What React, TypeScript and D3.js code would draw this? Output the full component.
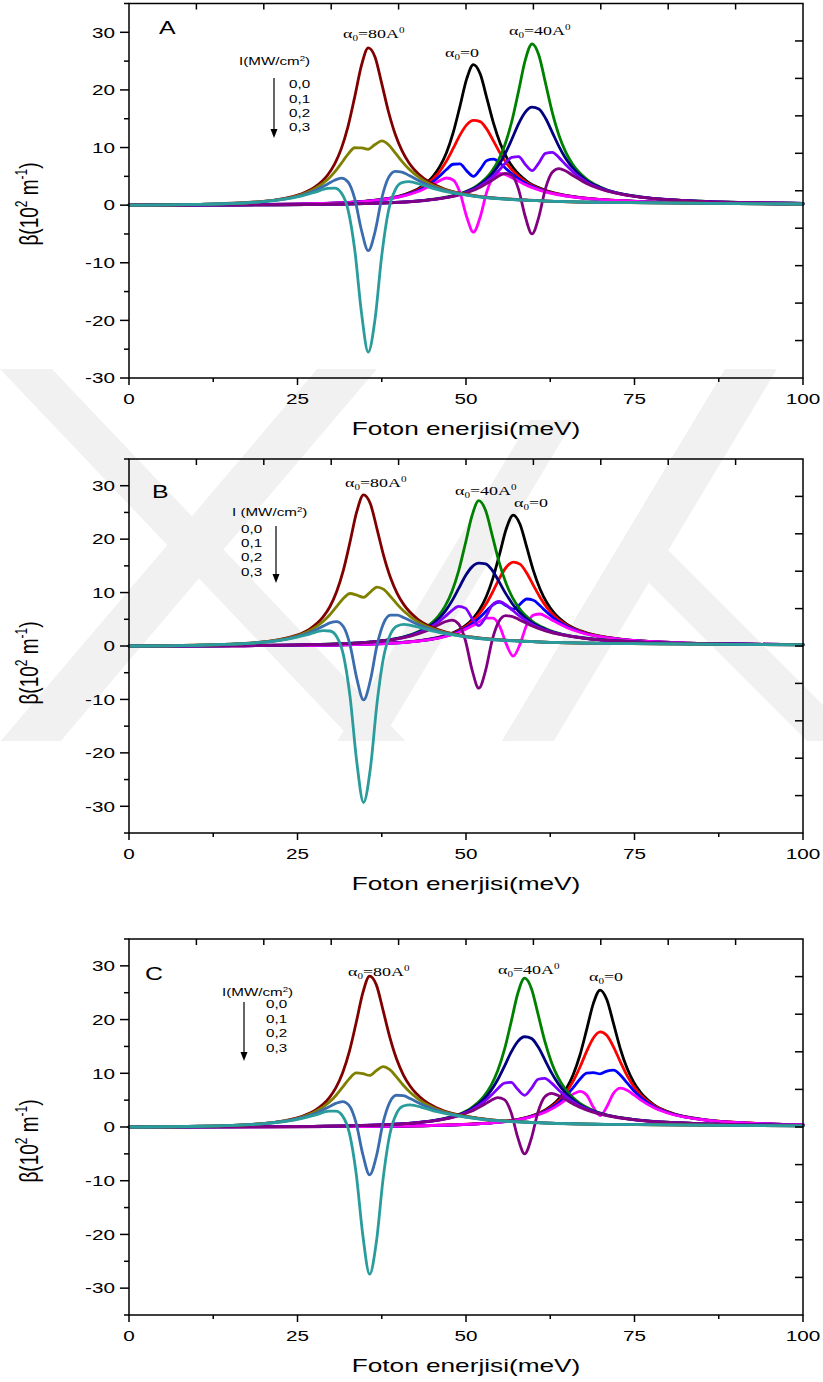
import React, { useEffect, useRef } from "react";
import * as d3 from "d3";

// Photon energy grids (meV) and nonlinear absorption β (10^2 m^-1)
// Each group: α0 value, four intensities I = 0.0, 0.1, 0.2, 0.3 MW/cm²

// ---- Panel A ----
const xA0 = [0, 11.1, 26.1, 35.1, 41.1, 43.1, 45.1, 46.1, 47.1, 48.1, 49.1, 50.1, 51.1, 52.1, 53.1, 54.1, 55.1, 56.1, 57.1, 59.1, 61.1, 67.1, 76.1, 86.1, 100];
const yA0_0 = [0, 0.04, 0.21, 0.68, 1.93, 2.99, 5.0, 6.68, 9.11, 12.58, 17.15, 21.91, 24.4, 22.79, 18.54, 14.14, 10.66, 8.13, 6.33, 4.1, 2.87, 1.31, 0.62, 0.36, 0.22];
const yA0_1 = [0, 0.04, 0.21, 0.67, 1.85, 2.82, 4.54, 5.87, 7.64, 9.84, 12.16, 13.93, 14.7, 14.49, 13.15, 11.06, 8.94, 7.15, 5.75, 3.87, 2.75, 1.29, 0.62, 0.36, 0.22];
const yA0_2 = [0, 0.04, 0.21, 0.66, 1.78, 2.65, 4.08, 5.07, 6.18, 7.1, 7.18, 5.95, 5.0, 6.19, 7.76, 7.99, 7.23, 6.17, 5.16, 3.63, 2.64, 1.27, 0.61, 0.36, 0.22];
const yA0_3 = [0, 0.04, 0.21, 0.65, 1.7, 2.47, 3.62, 4.26, 4.71, 4.36, 2.19, -2.02, -4.7, -2.1, 2.37, 4.91, 5.51, 5.19, 4.58, 3.39, 2.53, 1.24, 0.61, 0.36, 0.22];

const xA40 = [0, 19.8, 34.8, 43.8, 49.8, 51.8, 53.8, 54.8, 55.8, 56.8, 57.8, 58.8, 59.8, 60.8, 61.8, 62.8, 63.8, 64.8, 65.8, 67.8, 69.8, 75.8, 84.8, 94.8, 100];
const yA40_0 = [0, 0.06, 0.28, 0.84, 2.29, 3.53, 5.85, 7.79, 10.58, 14.56, 19.8, 25.22, 28.0, 26.07, 21.16, 16.1, 12.1, 9.21, 7.15, 4.62, 3.21, 1.45, 0.68, 0.39, 0.31];
const yA40_1 = [0, 0.06, 0.28, 0.82, 2.2, 3.33, 5.32, 6.86, 8.9, 11.43, 14.11, 16.14, 17.0, 16.69, 15.08, 12.64, 10.17, 8.11, 6.5, 4.35, 3.09, 1.43, 0.68, 0.39, 0.31];
const yA40_2 = [0, 0.06, 0.28, 0.81, 2.11, 3.12, 4.78, 5.93, 7.22, 8.3, 8.42, 7.07, 6.0, 7.31, 9.0, 9.17, 8.25, 7.01, 5.85, 4.09, 2.96, 1.4, 0.67, 0.39, 0.31];
const yA40_3 = [0, 0.06, 0.27, 0.8, 2.03, 2.92, 4.25, 5.0, 5.53, 5.16, 2.73, -2.01, -5.0, -2.07, 2.92, 5.71, 6.33, 5.91, 5.2, 3.82, 2.84, 1.38, 0.67, 0.39, 0.31];

const xA80 = [0, 10.5, 19.5, 25.5, 27.5, 29.5, 30.5, 31.5, 32.5, 33.5, 34.5, 35.5, 36.5, 37.5, 38.5, 39.5, 40.5, 41.5, 43.5, 45.5, 51.5, 60.5, 70.5, 100];
const yA80_0 = [0, 0.14, 0.61, 1.93, 3.07, 5.27, 7.12, 9.81, 13.68, 18.84, 24.3, 27.3, 25.71, 21.09, 16.21, 12.3, 9.45, 7.41, 4.86, 3.44, 1.62, 0.8, 0.48, 0.2];
const yA80_1 = [0, 0.14, 0.6, 1.8, 2.79, 4.48, 5.73, 7.25, 8.85, 9.96, 9.95, 9.7, 10.53, 11.15, 10.49, 9.09, 7.6, 6.3, 4.41, 3.22, 1.57, 0.79, 0.48, 0.2];
const yA80_2 = [0, 0.14, 0.58, 1.68, 2.5, 3.69, 4.33, 4.69, 4.02, 1.08, -4.4, -7.9, -4.65, 1.2, 4.77, 5.88, 5.75, 5.19, 3.95, 3.0, 1.53, 0.78, 0.48, 0.2];
const yA80_3 = [0, 0.13, 0.56, 1.56, 2.21, 2.9, 2.94, 2.13, -0.81, -7.81, -18.75, -25.5, -19.83, -8.74, -0.96, 2.67, 3.9, 4.08, 3.5, 2.78, 1.49, 0.77, 0.48, 0.2];

// ---- Panel B ----
const xB0 = [0, 17, 32, 41, 47, 49, 51, 52, 53, 54, 55, 56, 57, 58, 59, 60, 61, 62, 63, 65, 67, 73, 82, 92, 100];
const yB0_0 = [0, 0.05, 0.24, 0.72, 1.98, 3.06, 5.09, 6.78, 9.23, 12.71, 17.29, 22.05, 24.5, 22.83, 18.55, 14.12, 10.62, 8.09, 6.29, 4.06, 2.83, 1.28, 0.6, 0.35, 0.25];
const yB0_1 = [0, 0.05, 0.23, 0.71, 1.91, 2.9, 4.67, 6.04, 7.89, 10.21, 12.75, 14.79, 15.7, 15.32, 13.68, 11.34, 9.08, 7.2, 5.76, 3.85, 2.73, 1.26, 0.6, 0.35, 0.25];
const yB0_2 = [0, 0.05, 0.23, 0.7, 1.84, 2.74, 4.24, 5.3, 6.54, 7.71, 8.21, 7.54, 6.9, 7.81, 8.8, 8.57, 7.53, 6.32, 5.24, 3.64, 2.63, 1.24, 0.6, 0.35, 0.25];
const yB0_3 = [0, 0.05, 0.23, 0.69, 1.78, 2.58, 3.82, 4.56, 5.2, 5.21, 3.67, 0.29, -1.9, 0.3, 3.93, 5.79, 5.99, 5.44, 4.71, 3.43, 2.53, 1.22, 0.59, 0.35, 0.25];

const xB40 = [0, 11.9, 26.9, 35.9, 41.9, 43.9, 45.9, 46.9, 47.9, 48.9, 49.9, 50.9, 51.9, 52.9, 53.9, 54.9, 55.9, 56.9, 57.9, 59.9, 61.9, 67.9, 76.9, 86.9, 100];
const yB40_0 = [0, 0.04, 0.24, 0.77, 2.16, 3.35, 5.59, 7.46, 10.17, 14.03, 19.13, 24.43, 27.2, 25.39, 20.66, 15.75, 11.87, 9.05, 7.05, 4.56, 3.19, 1.45, 0.69, 0.4, 0.25];
const yB40_1 = [0, 0.04, 0.24, 0.76, 2.07, 3.14, 5.03, 6.48, 8.4, 10.73, 13.11, 14.81, 15.5, 15.39, 14.16, 12.04, 9.8, 7.87, 6.34, 4.28, 3.05, 1.43, 0.69, 0.4, 0.25];
const yB40_2 = [0, 0.04, 0.24, 0.74, 1.97, 2.93, 4.47, 5.51, 6.63, 7.42, 7.09, 5.18, 3.8, 5.38, 7.66, 8.33, 7.73, 6.69, 5.64, 3.99, 2.92, 1.4, 0.68, 0.4, 0.25];
const yB40_3 = [0, 0.04, 0.24, 0.73, 1.88, 2.72, 3.91, 4.54, 4.85, 4.12, 1.08, -4.45, -7.9, -4.62, 1.16, 4.62, 5.67, 5.5, 4.93, 3.71, 2.78, 1.38, 0.68, 0.4, 0.25];

const xB80 = [0, 9.8, 18.8, 24.8, 26.8, 28.8, 29.8, 30.8, 31.8, 32.8, 33.8, 34.8, 35.8, 36.8, 37.8, 38.8, 39.8, 40.8, 42.8, 44.8, 50.8, 59.8, 69.8, 100];
const yB80_0 = [0, 0.14, 0.62, 1.98, 3.17, 5.44, 7.35, 10.15, 14.16, 19.51, 25.18, 28.3, 26.66, 21.89, 16.83, 12.78, 9.82, 7.7, 5.06, 3.58, 1.69, 0.83, 0.5, 0.21];
const yB80_1 = [0, 0.14, 0.61, 1.85, 2.86, 4.58, 5.84, 7.36, 8.9, 9.83, 9.53, 9.1, 10.1, 11.03, 10.58, 9.27, 7.8, 6.49, 4.56, 3.34, 1.64, 0.82, 0.5, 0.21];
const yB80_2 = [0, 0.13, 0.59, 1.72, 2.54, 3.72, 4.33, 4.57, 3.64, 0.15, -6.11, -10.1, -6.48, 0.17, 4.33, 5.76, 5.78, 5.28, 4.06, 3.1, 1.59, 0.82, 0.5, 0.21];
const yB80_3 = [0, 0.13, 0.57, 1.59, 2.23, 2.87, 2.81, 1.78, -1.62, -9.53, -21.76, -29.3, -23.04, -10.69, -1.93, 2.25, 3.76, 4.06, 3.56, 2.86, 1.55, 0.8, 0.5, 0.21];

// ---- Panel C ----
const xC0 = [0, 14.9, 29.9, 44.9, 53.9, 59.9, 61.9, 63.9, 64.9, 65.9, 66.9, 67.9, 68.9, 69.9, 70.9, 71.9, 72.9, 73.9, 74.9, 75.9, 77.9, 79.9, 85.9, 94.9, 100];
const yC0_0 = [0, 0.02, 0.07, 0.28, 0.8, 2.15, 3.28, 5.41, 7.18, 9.74, 13.36, 18.12, 23.02, 25.5, 23.69, 19.18, 14.56, 10.92, 8.29, 6.43, 4.13, 2.86, 1.28, 0.59, 0.43];
const yC0_1 = [0, 0.02, 0.07, 0.28, 0.79, 2.08, 3.14, 5.03, 6.52, 8.53, 11.12, 14.07, 16.57, 17.7, 17.05, 14.89, 12.12, 9.57, 7.52, 5.97, 3.95, 2.78, 1.26, 0.59, 0.43];
const yC0_2 = [0, 0.02, 0.07, 0.28, 0.78, 2.02, 2.99, 4.64, 5.85, 7.33, 8.89, 10.01, 10.12, 9.9, 10.42, 10.6, 9.68, 8.21, 6.75, 5.52, 3.76, 2.69, 1.25, 0.59, 0.43];
const yC0_3 = [0, 0.02, 0.07, 0.28, 0.77, 1.95, 2.85, 4.26, 5.18, 6.12, 6.65, 5.96, 3.67, 2.1, 3.78, 6.31, 7.24, 6.86, 5.98, 5.06, 3.58, 2.6, 1.23, 0.58, 0.43];

const xC40 = [0, 18.7, 33.7, 42.7, 48.7, 50.7, 52.7, 53.7, 54.7, 55.7, 56.7, 57.7, 58.7, 59.7, 60.7, 61.7, 62.7, 63.7, 64.7, 66.7, 68.7, 74.7, 83.7, 93.7, 100];
const yC40_0 = [0, 0.06, 0.27, 0.82, 2.26, 3.48, 5.78, 7.69, 10.46, 14.39, 19.57, 24.94, 27.7, 25.8, 20.95, 15.94, 11.98, 9.12, 7.09, 4.58, 3.18, 1.44, 0.68, 0.39, 0.3];
const yC40_1 = [0, 0.06, 0.27, 0.81, 2.17, 3.28, 5.25, 6.77, 8.79, 11.29, 13.94, 15.95, 16.8, 16.5, 14.92, 12.51, 10.07, 8.03, 6.44, 4.32, 3.06, 1.42, 0.67, 0.39, 0.3];
const yC40_2 = [0, 0.06, 0.27, 0.8, 2.08, 3.08, 4.72, 5.85, 7.12, 8.19, 8.31, 6.96, 5.9, 7.2, 8.89, 9.07, 8.17, 6.94, 5.79, 4.05, 2.94, 1.39, 0.67, 0.39, 0.3];
const yC40_3 = [0, 0.06, 0.27, 0.78, 2.0, 2.88, 4.19, 4.93, 5.46, 5.09, 2.68, -2.03, -5.0, -2.1, 2.86, 5.64, 6.26, 5.85, 5.15, 3.79, 2.82, 1.37, 0.66, 0.39, 0.3];

const xC80 = [0, 10.7, 19.7, 25.7, 27.7, 29.7, 30.7, 31.7, 32.7, 33.7, 34.7, 35.7, 36.7, 37.7, 38.7, 39.7, 40.7, 41.7, 43.7, 45.7, 51.7, 60.7, 70.7, 100];
const yC80_0 = [0, 0.14, 0.63, 1.99, 3.17, 5.43, 7.33, 10.11, 14.09, 19.4, 25.02, 28.1, 26.46, 21.7, 16.68, 12.66, 9.72, 7.62, 5.0, 3.53, 1.66, 0.82, 0.49, 0.21];
const yC80_1 = [0, 0.14, 0.62, 1.86, 2.87, 4.6, 5.87, 7.41, 9.01, 10.06, 9.93, 9.6, 10.5, 11.25, 10.67, 9.28, 7.78, 6.46, 4.52, 3.3, 1.62, 0.81, 0.49, 0.21];
const yC80_2 = [0, 0.14, 0.6, 1.73, 2.56, 3.77, 4.4, 4.72, 3.93, 0.72, -5.15, -8.9, -5.45, 0.8, 4.65, 5.91, 5.84, 5.29, 4.04, 3.08, 1.57, 0.8, 0.49, 0.21];
const yC80_3 = [0, 0.14, 0.58, 1.6, 2.26, 2.94, 2.94, 2.02, -1.15, -8.62, -20.24, -27.4, -21.41, -9.65, -1.36, 2.53, 3.9, 4.13, 3.57, 2.85, 1.53, 0.79, 0.49, 0.21];

// Line colours per α0 group, ordered by intensity
const COLORS_0 = ["#000000", "#ff0000", "#0000ff", "#ff00ff"];
const COLORS_40 = ["#008000", "#000080", "#8000ff", "#800080"];
const COLORS_80 = ["#800000", "#808000", "#3a6cae", "#2a9c9c"];

const intensityLabels = ["0,0", "0,1", "0,2", "0,3"];
const xTicksMajor = [0, 25, 50, 75, 100];
const xTicksMinor = [12.5, 37.5, 62.5, 87.5];

// Light-grey emblem stripes in the page background: [left x, right x, start y, dx per dy]
const emblemStripes: [number, number, number, number][] = [
  [0, 52, 369, 0.95],
  [317, 377, 369, -0.85],
  [530, 574, 420, -0.6],
  [725, 777, 369, -0.6],
  [616, 668, 550, 1.0],
];
const EMBLEM_BOTTOM = 741;

type Group = { x: number[]; ys: number[][]; colors: string[] };
type AlphaLabel = { value: string; angstrom: boolean; x: number; y: number };
type Panel = {
  letter: string;
  yMin: number;
  yMax: number;
  top: number;
  bottom: number;
  groups: Group[];
  letterPos: [number, number];
  alpha: AlphaLabel[];
  legendTitle: string;
  legendTitlePos: [number, number];
  legendX: number;
  legendYs: number[];
  arrow: [number, number, number];
  yTitleY: number;
};

const panels: Panel[] = [
  {
    letter: "A", yMin: -30, yMax: 35, top: 3.5, bottom: 378,
    groups: [
      { x: xA0, ys: [yA0_0, yA0_1, yA0_2, yA0_3], colors: COLORS_0 },
      { x: xA40, ys: [yA40_0, yA40_1, yA40_2, yA40_3], colors: COLORS_40 },
      { x: xA80, ys: [yA80_0, yA80_1, yA80_2, yA80_3], colors: COLORS_80 },
    ],
    letterPos: [159, 34],
    alpha: [
      { value: "80", angstrom: true, x: 343, y: 38 },
      { value: "0", angstrom: false, x: 445, y: 57 },
      { value: "40", angstrom: true, x: 509, y: 35 },
    ],
    legendTitle: "I(MW/cm", legendTitlePos: [239, 65],
    legendX: 289, legendYs: [88, 103, 117, 131],
    arrow: [274, 78, 138],
    yTitleY: 204,
  },
  {
    letter: "B", yMin: -35, yMax: 35, top: 459, bottom: 833,
    groups: [
      { x: xB0, ys: [yB0_0, yB0_1, yB0_2, yB0_3], colors: COLORS_0 },
      { x: xB40, ys: [yB40_0, yB40_1, yB40_2, yB40_3], colors: COLORS_40 },
      { x: xB80, ys: [yB80_0, yB80_1, yB80_2, yB80_3], colors: COLORS_80 },
    ],
    letterPos: [152, 498],
    alpha: [
      { value: "80", angstrom: true, x: 345, y: 487 },
      { value: "40", angstrom: true, x: 455, y: 495 },
      { value: "0", angstrom: false, x: 514, y: 507 },
    ],
    legendTitle: "I (MW/cm", legendTitlePos: [232, 516],
    legendX: 241, legendYs: [533, 547, 561, 576],
    arrow: [276, 526, 583],
    yTitleY: 663,
  },
  {
    letter: "C", yMin: -35, yMax: 35, top: 939, bottom: 1315,
    groups: [
      { x: xC0, ys: [yC0_0, yC0_1, yC0_2, yC0_3], colors: COLORS_0 },
      { x: xC40, ys: [yC40_0, yC40_1, yC40_2, yC40_3], colors: COLORS_40 },
      { x: xC80, ys: [yC80_0, yC80_1, yC80_2, yC80_3], colors: COLORS_80 },
    ],
    letterPos: [145, 980],
    alpha: [
      { value: "80", angstrom: true, x: 348, y: 976 },
      { value: "40", angstrom: true, x: 498, y: 974 },
      { value: "0", angstrom: false, x: 589, y: 981 },
    ],
    legendTitle: "I(MW/cm", legendTitlePos: [222, 996],
    legendX: 266, legendYs: [1008, 1023, 1037, 1052],
    arrow: [244, 1002, 1061],
    yTitleY: 1141,
  },
];

const SANS = "'Liberation Sans', Arial, Helvetica, sans-serif";
const SERIF = "'Liberation Serif', 'Times New Roman', serif";
const SX = 1.38; // horizontal stretch of the figure's lettering

export default function App() {
  const ref = useRef<SVGSVGElement | null>(null);

  useEffect(() => {
    const svg = d3.select(ref.current as SVGSVGElement);
    svg.selectAll("*").remove();

    svg.append("rect").attr("width", 823).attr("height", 1382).attr("fill", "#ffffff");

    // background emblem
    const emblem = svg.append("g").attr("fill", "#f1f1f1");
    for (const [l, r, ys, s] of emblemStripes) {
      const dy = EMBLEM_BOTTOM - ys;
      const pts: [number, number][] = [
        [l, ys],
        [r, ys],
        [r + s * dy, EMBLEM_BOTTOM],
        [l + s * dy, EMBLEM_BOTTOM],
      ];
      emblem.append("polygon").attr("points", pts.map((p) => p.join(",")).join(" "));
    }

    const x = d3.scaleLinear().domain([0, 100]).range([129, 803]);

    const stretched = (
      parent: d3.Selection<SVGGElement, unknown, null, undefined>,
      px: number,
      py: number,
      size: number,
      family: string,
      anchor: string
    ) =>
      parent
        .append("text")
        .attr("transform", `translate(${px},${py}) scale(${SX},1)`)
        .attr("font-family", family)
        .attr("font-size", size)
        .attr("text-anchor", anchor)
        .attr("fill", "#000");

    for (const p of panels) {
      const y = d3.scaleLinear().domain([p.yMin, p.yMax]).range([p.bottom, p.top]);
      const g = svg.append("g");

      // curves
      const line = d3
        .line<[number, number]>()
        .x((d) => x(d[0]))
        .y((d) => y(d[1]))
        .curve(d3.curveMonotoneX);

      for (const grp of p.groups) {
        grp.ys.forEach((ys, i) => {
          const pts = grp.x.map((xv, j) => [xv, ys[j]] as [number, number]);
          g.append("path")
            .attr("d", line(pts) as string)
            .attr("fill", "none")
            .attr("stroke", grp.colors[i])
            .attr("stroke-width", 2.8)
            .attr("stroke-linejoin", "round")
            .attr("stroke-linecap", "round");
        });
      }

      // frame
      const x0 = x(0), x1 = x(100), yt = p.top, yb = p.bottom;
      const axis = g.append("g").attr("stroke", "#000").attr("stroke-width", 1.5).attr("fill", "none");
      axis.append("rect").attr("x", x0).attr("y", yt).attr("width", x1 - x0).attr("height", yb - yt);

      // left ticks (outward)
      for (let v = Math.ceil(p.yMin / 5) * 5; v <= p.yMax; v += 5) {
        const major = v % 10 === 0;
        axis.append("line")
          .attr("x1", x0).attr("x2", x0 - (major ? 9 : 5))
          .attr("y1", y(v)).attr("y2", y(v));
        if (major) {
          stretched(g, 115, y(v) + 5.3, 15, SANS, "end").text(String(v));
        }
      }
      // bottom ticks (outward)
      for (const v of xTicksMajor) {
        axis.append("line").attr("x1", x(v)).attr("x2", x(v)).attr("y1", yb).attr("y2", yb + 7);
        stretched(g, x(v), yb + 26, 15, SANS, "middle").text(String(v));
      }
      for (const v of xTicksMinor) {
        axis.append("line").attr("x1", x(v)).attr("x2", x(v)).attr("y1", yb).attr("y2", yb + 4);
      }
      // top ticks (inward)
      for (let v = 10; v < 100; v += 10) {
        axis.append("line").attr("x1", x(v)).attr("x2", x(v)).attr("y1", yt).attr("y2", yt + 6);
      }
      // right ticks (inward), ten equal intervals
      const step = (p.yMax - p.yMin) / 10;
      for (let k = 1; k < 10; k++) {
        const v = p.yMin + k * step;
        axis.append("line").attr("x1", x1).attr("x2", x1 - 8).attr("y1", y(v)).attr("y2", y(v));
      }

      // axis titles
      stretched(g, (x0 + x1) / 2, yb + 57, 19, SANS, "middle").text("Foton enerjisi(meV)");

      const yt1 = g
        .append("text")
        .attr("transform", `translate(38,${p.yTitleY}) scale(${SX},1) rotate(-90)`)
        .attr("font-family", SANS)
        .attr("font-size", 19)
        .attr("text-anchor", "middle")
        .attr("fill", "#000");
      yt1.append("tspan").text("β(10");
      yt1.append("tspan").attr("font-size", 12).attr("dy", -8).text("2");
      yt1.append("tspan").attr("dy", 8).text(" m");
      yt1.append("tspan").attr("font-size", 12).attr("dy", -8).text("-1");
      yt1.append("tspan").attr("dy", 8).text(")");

      // panel letter
      stretched(g, p.letterPos[0], p.letterPos[1], 18, SANS, "start").text(p.letter);

      // α0 labels
      for (const a of p.alpha) {
        const t = stretched(g, a.x, a.y, 13, SERIF, "start");
        t.append("tspan").text("α");
        t.append("tspan").attr("font-size", 8).attr("dy", 3).text("0");
        t.append("tspan").attr("dy", -3).text("=" + a.value + (a.angstrom ? "A" : ""));
        if (a.angstrom) t.append("tspan").attr("font-size", 8).attr("dy", -5).text("0");
      }

      // intensity legend
      const lt = stretched(g, p.legendTitlePos[0], p.legendTitlePos[1], 11, SANS, "start");
      lt.append("tspan").text(p.legendTitle);
      lt.append("tspan").attr("font-size", 7).attr("dy", -4).text("2");
      lt.append("tspan").attr("dy", 4).text(")");
      intensityLabels.forEach((s, i) => {
        stretched(g, p.legendX, p.legendYs[i], 11, SANS, "start").text(s);
      });
      const [ax, ay0, ay1] = p.arrow;
      g.append("line")
        .attr("x1", ax).attr("x2", ax).attr("y1", ay0).attr("y2", ay1 - 8)
        .attr("stroke", "#000").attr("stroke-width", 1.2);
      g.append("path")
        .attr("d", `M${ax - 3.5},${ay1 - 9} L${ax + 3.5},${ay1 - 9} L${ax},${ay1} Z`)
        .attr("fill", "#000");
    }
  }, []);

  return (
    <svg
      ref={ref}
      width={823}
      height={1382}
      style={{ position: "absolute", left: 0, top: 0, display: "block" }}
    />
  );
}
